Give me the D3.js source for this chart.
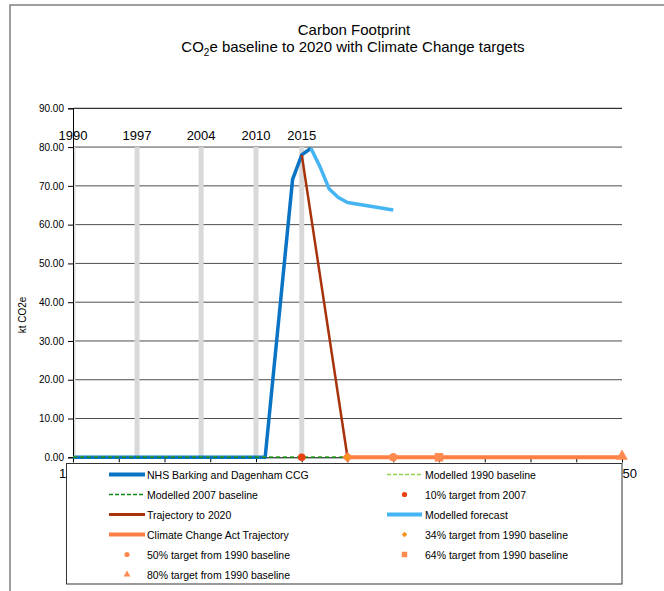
<!DOCTYPE html>
<html>
<head>
<meta charset="utf-8">
<script src="https://cdn.jsdelivr.net/npm/d3@7"></script>
<style>
  html, body { margin: 0; padding: 0; background: #fff; }
  svg { display: block; font-family: "Liberation Sans", Arial, sans-serif; }
</style>
</head>
<body>
<svg id="chart" width="664" height="591"></svg>
<script>
// ---------- data ----------
const markerYears = [1990, 1997, 2004, 2010, 2015];
const markerBarValue = [80, 80, 80, 80, 80];

const nhsYears = [1990, 2011, 2014, 2015, 2016];
const nhsValues = [0, 0, 71.7, 78.0, 79.7];

const forecastYears = [2016, 2017, 2018, 2019, 2020, 2025];
const forecastValues = [79.7, 74.9, 69.2, 67.0, 65.7, 63.8];

const trajectoryYears = [2015, 2020];
const trajectoryValues = [78.0, 0];

const baseline1990Years = [1990, 2020];
const baseline1990Values = [0, 0];
const baseline2007Years = [1990, 2020];
const baseline2007Values = [0, 0];

const ccaYears = [2020, 2025, 2030, 2050];
const ccaValues = [0, 0, 0, 0];

const target10 = [2015, 0];
const target34 = [2020, 0];
const target50 = [2025, 0];
const target64 = [2030, 0];
const target80 = [2050, 0];

const yTicks = [0, 10, 20, 30, 40, 50, 60, 70, 80, 90];
const xTicks = [1990, 1995, 2000, 2005, 2010, 2015, 2020, 2025, 2030, 2035, 2040, 2045, 2050];
// only the end labels are left visible beside the legend box
const xTickLabelsShown = [1990, 2050];

// ---------- layout ----------
const svg = d3.select("#chart");
const x = d3.scaleLinear().domain([1990, 2050]).range([73, 622]);
const y = d3.scaleLinear().domain([0, 90]).range([457.3, 108.3]);

const C = {
  nhs: "#0a74c4",
  forecast: "#45b4f2",
  traj: "#a8320a",
  cca: "#ff7f45",
  g1990: "#92d050",
  g2007: "#128a12",
  red: "#e8400f",
  diamond: "#f7941d",
  orange: "#ff8a4f"
};

// outer chart border
svg.append("path").attr("d", "M10,600 L10,5 L670,5")
  .attr("fill", "none").attr("stroke", "#7f7f7f").attr("stroke-width", 1.5);

// title
const title = svg.append("text").attr("text-anchor", "middle").attr("font-size", 15).attr("fill", "#000");
title.append("tspan").attr("x", 354).attr("y", 35).text("Carbon Footprint");
const t2 = title.append("tspan").attr("x", 353).attr("y", 52);
t2.append("tspan").text("CO");
t2.append("tspan").attr("font-size", 10).attr("dy", 4).text("2");
t2.append("tspan").attr("dy", -4).text("e baseline to 2020 with Climate Change targets");

// gridlines
svg.append("g").selectAll("line").data(yTicks.filter(d => d > 0)).join("line")
  .attr("x1", x(1990)).attr("x2", x(2050))
  .attr("y1", d => y(d)).attr("y2", d => y(d))
  .attr("stroke", d => d === 90 ? "#000" : "#4d4d4d").attr("stroke-width", 1);

// x axis
const xAxis = svg.append("g").attr("transform", `translate(0,${y(0)})`)
  .call(d3.axisBottom(x).tickValues(xTicks)
    .tickFormat(d => xTickLabelsShown.includes(d) ? d3.format("d")(d) : "")
    .tickSize(5).tickPadding(6));
xAxis.select(".domain").attr("stroke", "#000");
xAxis.selectAll("text").attr("font-size", 13).attr("font-family", "Liberation Sans, Arial, sans-serif").attr("fill", "#000");

// clip for plot
svg.append("clipPath").attr("id", "plotclip").append("rect")
  .attr("x", x(1990)).attr("y", 100).attr("width", x(2050) - x(1990) + 20).attr("height", y(0) - 100 + 10);

// gray bars
const barW = 5;
svg.append("g").attr("clip-path", "url(#plotclip)").selectAll("rect").data(markerYears).join("rect")
  .attr("x", d => x(d) - barW / 2).attr("width", barW)
  .attr("y", (d, i) => y(markerBarValue[i])).attr("height", (d, i) => y(0) - y(markerBarValue[i]))
  .attr("fill", "#d9d9d9");

// bar labels
svg.append("g").selectAll("text").data(markerYears).join("text")
  .attr("x", d => x(d)).attr("y", (d, i) => y(markerBarValue[i]) - 7)
  .attr("text-anchor", "middle").attr("font-size", 13).attr("fill", "#000").text(d => d);

// y axis
const yAxis = svg.append("g").attr("transform", `translate(${x(1990)},0)`)
  .call(d3.axisLeft(y).tickValues(yTicks).tickFormat(d3.format(".2f")).tickSize(5).tickPadding(4));
yAxis.select(".domain").attr("stroke", "#000");
yAxis.selectAll("text").attr("font-size", 10).attr("font-family", "Liberation Sans, Arial, sans-serif").attr("fill", "#000");

// y label
svg.append("text").attr("transform", "translate(26,315) rotate(-90)")
  .attr("text-anchor", "middle").attr("font-size", 10).attr("fill", "#000").text("kt CO2e");

// lines
const line = d3.line().x(d => x(d[0])).y(d => y(d[1]));
const zip = (a, b) => a.map((v, i) => [v, b[i]]);
const g = svg.append("g");

g.append("path").attr("d", line(zip(nhsYears, nhsValues)))
  .attr("fill", "none").attr("stroke", C.nhs).attr("stroke-width", 3.5).attr("stroke-linejoin", "round");
g.append("path").attr("d", line(zip(baseline1990Years, baseline1990Values)))
  .attr("fill", "none").attr("stroke", C.g1990).attr("stroke-width", 1.5).attr("stroke-dasharray", "4,3");
g.append("path").attr("d", line(zip(baseline2007Years, baseline2007Values)))
  .attr("fill", "none").attr("stroke", C.g2007).attr("stroke-width", 1.5).attr("stroke-dasharray", "4,3");
g.append("circle").attr("cx", x(target10[0])).attr("cy", y(target10[1])).attr("r", 3.8).attr("fill", C.red);
g.append("path").attr("d", line(zip(trajectoryYears, trajectoryValues)))
  .attr("fill", "none").attr("stroke", C.traj).attr("stroke-width", 2.5);
g.append("path").attr("d", line(zip(forecastYears, forecastValues)))
  .attr("fill", "none").attr("stroke", C.forecast).attr("stroke-width", 3.5).attr("stroke-linejoin", "round");
g.append("path").attr("d", line(zip(ccaYears, ccaValues)))
  .attr("fill", "none").attr("stroke", C.cca).attr("stroke-width", 4);

// target markers
const sym = (type, size) => d3.symbol().type(type).size(size)();
g.append("path").attr("d", sym(d3.symbolSquare, 40))
  .attr("transform", `translate(${x(target34[0])},${y(target34[1])}) rotate(45)`).attr("fill", C.diamond).attr("stroke", C.cca).attr("stroke-width", 1);
g.append("circle").attr("cx", x(target50[0])).attr("cy", y(target50[1])).attr("r", 4.2).attr("fill", C.orange);
g.append("path").attr("d", sym(d3.symbolSquare, 72))
  .attr("transform", `translate(${x(target64[0])},${y(target64[1])})`).attr("fill", C.orange);
g.append("path").attr("d", sym(d3.symbolTriangle, 60))
  .attr("transform", `translate(${x(target80[0])},${y(target80[1]) - 1})`).attr("fill", C.orange);

// legend
const lg = svg.append("g");
lg.append("rect").attr("x", 66.5).attr("y", 463.5).attr("width", 555.5).attr("height", 120.5)
  .attr("fill", "#fff").attr("stroke", "#333").attr("stroke-width", 1);

const legendNames = [
  "NHS Barking and Dagenham CCG", "Modelled 1990 baseline",
  "Modelled 2007 baseline", "10% target from 2007",
  "Trajectory to 2020", "Modelled forecast",
  "Climate Change Act Trajectory", "34% target from 1990 baseline",
  "50% target from 1990 baseline", "64% target from 1990 baseline",
  "80% target from 1990 baseline"
];
const legendKinds = [
  ["line", C.nhs, 4, null], ["line", C.g1990, 1.5, "4,2"],
  ["line", C.g2007, 1.5, "4,2"], ["circle", C.red],
  ["line", C.traj, 3, null], ["line", C.forecast, 4, null],
  ["line", C.cca, 4, null], ["diamond", C.diamond],
  ["circle", C.orange], ["square", C.orange],
  ["triangle", C.orange]
];
legendNames.forEach((name, i) => {
  const col = i % 2, row = Math.floor(i / 2);
  const sx0 = col === 0 ? 109 : 387, sx1 = col === 0 ? 145 : 422;
  const tx = col === 0 ? 147 : 425;
  const cy = 474.5 + row * 20;
  const k = legendKinds[i];
  if (k[0] === "line") {
    const l = lg.append("line").attr("x1", sx0).attr("x2", sx1).attr("y1", cy).attr("y2", cy)
      .attr("stroke", k[1]).attr("stroke-width", k[2]);
    if (k[3]) l.attr("stroke-dasharray", k[3]);
  } else {
    const mx = (sx0 + sx1) / 2;
    if (k[0] === "circle") lg.append("circle").attr("cx", mx).attr("cy", cy).attr("r", 2.6).attr("fill", k[1]);
    else if (k[0] === "diamond") {
      lg.append("path").attr("d", sym(d3.symbolSquare, 16)).attr("transform", `translate(${mx},${cy}) rotate(45)`).attr("fill", k[1]);
    } else {
      const t = k[0] === "square" ? d3.symbolSquare : d3.symbolTriangle;
      const s = k[0] === "square" ? 30 : 20;
      lg.append("path").attr("d", sym(t, s)).attr("transform", `translate(${mx},${cy})`).attr("fill", k[1]);
    }
  }
  lg.append("text").attr("x", tx).attr("y", cy + 4).attr("font-size", 10.5).attr("fill", "#000").text(name);
});
</script>
</body>
</html>
